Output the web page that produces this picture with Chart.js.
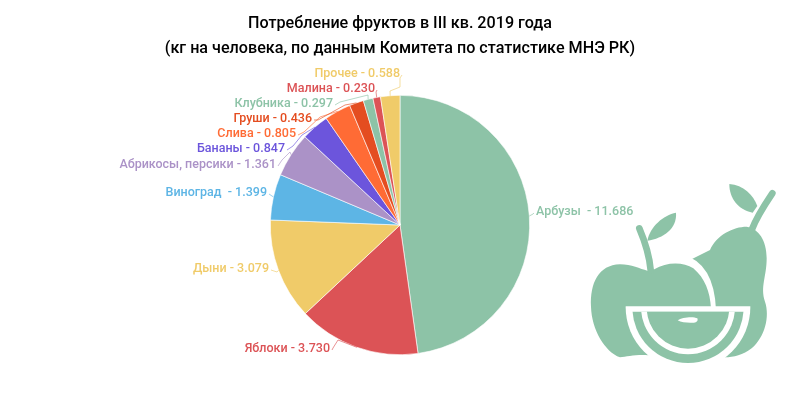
<!DOCTYPE html>
<html lang="ru">
<head>
    <meta charset="UTF-8">
    <title>Потребление фруктов</title>
    <script src="https://cdn.jsdelivr.net/npm/chart.js"></script>
    <style>
        html, body { margin: 0; padding: 0; background: #fff; }
        #wrap { width: 800px; height: 394px; }
    </style>
</head>
<body>
    <div id="wrap"><canvas id="pie" width="800" height="394"></canvas></div>
    <script>
        const titleLines = ['Потребление фруктов в III кв. 2019 года', '(кг на человека, по данным Комитета по статистике МНЭ РК)'];
        const fruits = ['Арбузы ', 'Яблоки', 'Дыни', 'Виноград ', 'Абрикосы, персики', 'Бананы', 'Слива', 'Груши', 'Клубника', 'Малина', 'Прочее'];
        const kgPerPerson = [11.686, 3.730, 3.079, 1.399, 1.361, 0.847, 0.805, 0.436, 0.297, 0.230, 0.588];
        const sliceColors = ['#8dc3a7', '#dc5356', '#f0cb69', '#5db5e5', '#ab92c7', '#6c55dc', '#ff6b35', '#e44d20', '#8dc3a7', '#dc5356', '#f0cb69'];

        // where each label sits: text anchor x, y and the bends of its leader line
        const labelSpots = [
            { x: 536, y: 212, align: 'left', bends: [[533, 214]] },
            { x: 330, y: 349, align: 'right', bends: [[333, 348], [338, 340]] },
            { x: 269, y: 269, align: 'right', bends: [[277, 272]] },
            { x: 267, y: 193, align: 'right', bends: [[272, 196]] },
            { x: 276, y: 165, align: 'right', bends: [[282, 160], [290, 152]] },
            { x: 285, y: 149, align: 'right', bends: [[293, 146], [302, 135]] },
            { x: 296, y: 134, align: 'right', bends: [[304, 132], [320, 117]] },
            { x: 312, y: 119, align: 'right', bends: [[318, 120], [345, 105]] },
            { x: 333, y: 104, align: 'right', bends: [[340, 102], [368, 95]] },
            { x: 375, y: 89, align: 'right', bends: [[376, 92]] },
            { x: 400, y: 74, align: 'right', bends: [[400, 78], [400, 87], [390, 91]] }
        ];

        const leaderLabels = {
            id: 'leaderLabels',
            afterDatasetsDraw(chart) {
                const ctx = chart.ctx;
                const arcs = chart.getDatasetMeta(0).data;
                ctx.save();
                ctx.font = '500 12.5px Roboto';
                ctx.textBaseline = 'middle';
                arcs.forEach((arc, i) => {
                    const spot = labelSpots[i];
                    const mid = (arc.startAngle + arc.endAngle) / 2;
                    const edgeX = arc.x + Math.cos(mid) * arc.outerRadius;
                    const edgeY = arc.y + Math.sin(mid) * arc.outerRadius;
                    const startX = spot.align === 'left' ? spot.x - 2 : spot.x + 2;
                    ctx.strokeStyle = sliceColors[i];
                    ctx.globalAlpha = 0.8;
                    ctx.lineWidth = 0.8;
                    ctx.beginPath();
                    ctx.moveTo(startX, spot.y + 1);
                    spot.bends.forEach(b => ctx.lineTo(b[0], b[1]));
                    ctx.lineTo(edgeX, edgeY);
                    ctx.stroke();
                    ctx.globalAlpha = 1;
                    ctx.fillStyle = sliceColors[i];
                    ctx.textAlign = spot.align;
                    ctx.fillText(fruits[i] + ' - ' + kgPerPerson[i].toFixed(3), spot.x, spot.y);
                });
                ctx.restore();
            }
        };

        // fruit picture at the lower right, path numbers are in 3x units
        const fruitIcon = {
            id: 'fruitIcon',
            afterDraw(chart) {
                const ctx = chart.ctx;
                const green = '#8dc3a7';
                ctx.save();
                ctx.translate(570, 170);
                ctx.scale(1 / 3, 1 / 3);
                ctx.fillStyle = green;
                ctx.strokeStyle = green;
                ctx.lineCap = 'round';

                ctx.fill(new Path2D('M360 270 L420 240 C440 195 490 170 530 170 C565 175 590 210 590 265 C590 320 570 350 585 395 C600 440 585 500 545 535 C520 555 490 562 465 562 L360 500 Z'));
                ctx.lineWidth = 20;
                ctx.stroke(new Path2D('M607 70 C580 110 560 140 545 180'));
                ctx.fill(new Path2D('M478 42 C520 45 550 75 562 108 L548 128 C505 120 478 85 478 42 Z'));

                // white gap between apple and pear
                ctx.strokeStyle = '#fff';
                ctx.lineWidth = 30;
                ctx.lineCap = 'butt';
                ctx.stroke(new Path2D('M335 268 C395 285 420 345 423 420'));

                ctx.fillStyle = green;
                ctx.strokeStyle = green;
                ctx.fill(new Path2D('M253 298 C290 275 340 275 370 295 C405 325 420 365 423 415 L423 480 L235 556 C200 553 170 560 150 562 C105 545 65 480 63 410 C60 340 85 285 150 283 C185 283 210 297 232 302 Z'));
                ctx.lineCap = 'round';
                ctx.lineWidth = 20;
                ctx.stroke(new Path2D('M208 175 C225 215 238 255 242 300'));
                ctx.fill(new Path2D('M232 212 C240 170 280 135 318 128 C322 175 280 205 232 212 Z'));

                // melon slice, stacked half discs
                const half = (r, top, color) => {
                    ctx.fillStyle = color;
                    ctx.save();
                    ctx.beginPath();
                    ctx.rect(100, top, 520, 220);
                    ctx.clip();
                    ctx.beginPath();
                    ctx.arc(354, 412, r, 0, Math.PI * 2);
                    ctx.fill();
                    ctx.restore();
                };
                half(187, 409, '#fff');
                half(167, 425, green);
                half(141, 425, '#fff');
                half(124, 425, green);

                ctx.fillStyle = '#fff';
                ctx.fill(new Path2D('M323 451 C335 442 370 438 382 445 C385 452 380 458 372 458 C355 459 335 458 323 451 Z'));
                ctx.restore();
            }
        };

        new Chart(document.getElementById('pie').getContext('2d'), {
            type: 'pie',
            data: {
                labels: fruits,
                datasets: [{
                    data: kgPerPerson,
                    backgroundColor: sliceColors,
                    borderColor: '#fff',
                    borderWidth: 0.6
                }]
            },
            options: {
                responsive: false,
                animation: false,
                layout: { padding: { bottom: 39 } },
                plugins: {
                    legend: { display: false },
                    tooltip: { enabled: false },
                    title: {
                        display: true,
                        text: titleLines,
                        color: '#000',
                        font: { family: 'Roboto', size: 16.15, weight: '500', lineHeight: 1.55 },
                        padding: { top: 11, bottom: 34 }
                    }
                }
            },
            plugins: [leaderLabels, fruitIcon]
        });
    </script>
</body>
</html>
